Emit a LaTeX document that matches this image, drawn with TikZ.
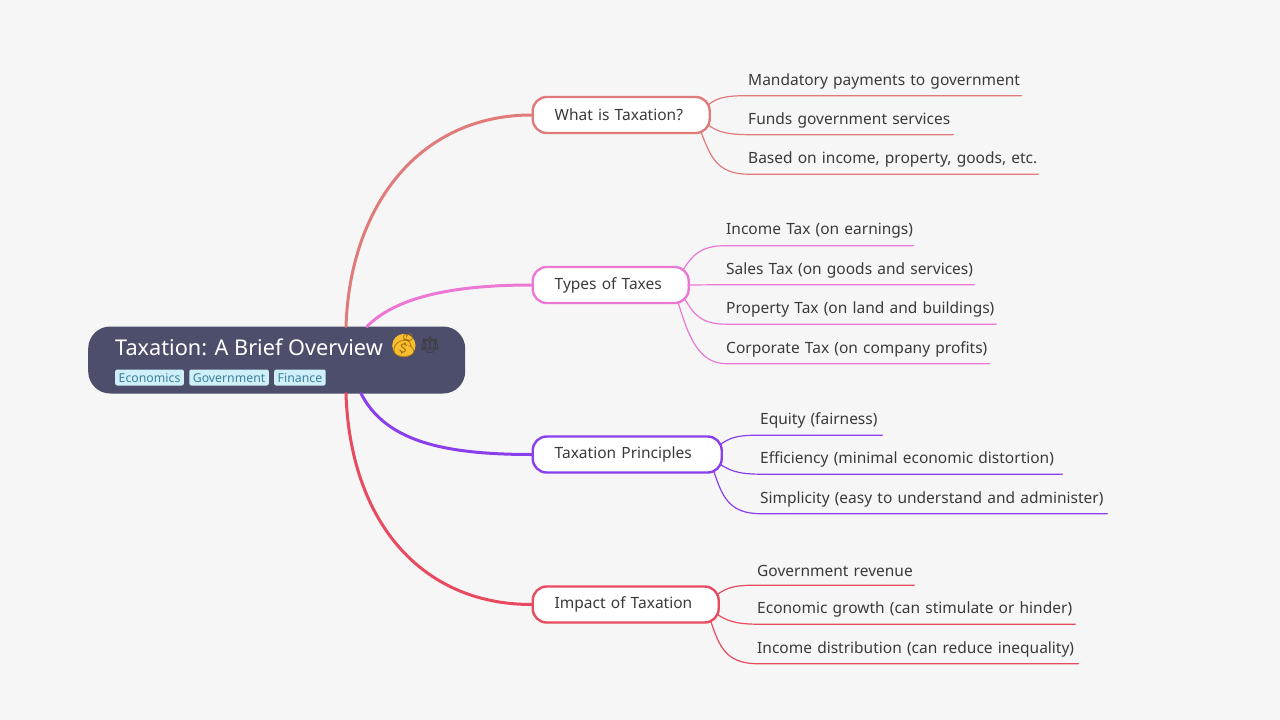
\documentclass[tikz,border=0pt]{standalone}
\usepackage{fontspec}
\setmainfont{Noto Sans}
\newfontfamily\emojifont{Noto Emoji}
\usetikzlibrary{positioning, calc}

\definecolor{canvas}{HTML}{F6F6F6}
\definecolor{rootfill}{HTML}{4C4E6C}
\definecolor{tagfill}{HTML}{CFF0F8}
\definecolor{tagtext}{HTML}{3D7F9C}
\definecolor{inktext}{HTML}{3A3A3A}
\definecolor{bagcol}{HTML}{F8C030}
\definecolor{bagline}{HTML}{A87008}
\definecolor{whatcol}{HTML}{E07B7B}
\definecolor{typescol}{HTML}{EC78D6}
\definecolor{princol}{HTML}{8A3FEC}
\definecolor{impactcol}{HTML}{E84A5F}

\begin{document}
\begin{tikzpicture}[x=1pt, y=-1pt]
	\tikzstyle{branch}=[draw, line width=2.4pt, rounded corners=14pt, fill=white, minimum height=36pt, inner xsep=22pt, text=inktext, font=\fontsize{15.5}{18}\selectfont, anchor=west, align=left];
	\tikzstyle{leaf}=[minimum height=29pt, text=inktext, font=\fontsize{15.5}{18}\selectfont, anchor=west, inner xsep=0pt, align=left];
	\tikzstyle{tag}=[fill=tagfill, text=tagtext, rounded corners=2pt, font=\fontsize{12.3}{14}\selectfont, inner xsep=3.5pt, inner ysep=3.5pt, text height=9pt, text depth=0pt, anchor=west];
	\tikzstyle{trunk}=[line width=3pt, line cap=round];
	\tikzstyle{twig}=[line width=1.2pt, line cap=round];

   \fill[canvas] (0, 0) rectangle (1280, 720);

   % first level
   \node[branch, draw=whatcol, text width=133pt] (what) at (531.5, 115) {What is Taxation?};
   \node[branch, draw=typescol, text width=112pt] (types) at (531.5, 285) {Types of Taxes};
   \node[branch, draw=princol, text width=145pt] (prin) at (531.5, 454.5) {Taxation Principles};
   \node[branch, draw=impactcol, text width=142pt] (impact) at (531.5, 604.5) {Impact of Taxation};

   % root
   \node[fill=rootfill, rounded corners=22pt, minimum width=377pt, minimum height=67pt, anchor=west] (root) at (88, 360) {};
   \node[text=white, font=\fontsize{21.7}{24}\selectfont, anchor=west, inner sep=0pt] (title) at (115, 347.5) {Taxation: A Brief Overview};
   \node[circle, fill=bagcol, text=bagline, font=\emojifont\fontsize{23}{24}\selectfont, inner sep=0pt, minimum size=17pt, right=9pt of title, yshift=2pt] (bag) {\raisebox{1pt}{\makebox[0pt]{💰}}};
   \node[text=inktext, font=\emojifont\fontsize{16}{20}\selectfont, inner sep=0pt, right=4pt of bag, yshift=0pt] (scales) {⚖};
   \node[tag] (econ) at (115, 377.5) {Economics};
   \node[tag, right=5pt of econ] (gov) {Government};
   \node[tag, right=5pt of gov] (fin) {Finance};

   \coordinate (r1) at (346, 326.5);
   \coordinate (r2) at (367, 326.5);
   \coordinate (r3) at (361, 393.5);
   \coordinate (r4) at (346, 393.5);
   \draw[trunk, whatcol] (r1) .. controls (350, 205) and (420, 115) .. (what.west);
   \draw[trunk, typescol] (r2) .. controls (395, 298) and (450, 285) .. (types.west);
   \draw[trunk, princol] (r3) .. controls (385, 440) and (440, 454.5) .. (prin.west);
   \draw[trunk, impactcol] (r4) .. controls (350, 520) and (420, 604.5) .. (impact.west);

   % What is Taxation?
   \node[leaf, text width=273pt] (w1) at (748, 81) {Mandatory payments to government};
   \node[leaf, text width=205pt] (w2) at (748, 120) {Funds government services};
   \node[leaf, text width=290pt] (w3) at (748, 159.5) {Based on income, property, goods, etc.};
   \coordinate (wa) at (708, 105);
   \coordinate (wb) at (708, 125);
   \coordinate (wc) at (701, 132);
   \draw[twig, whatcol] (wa) .. controls (716, 99) and (722, 95.5) .. (w1.south west) -- (w1.south east);
   \draw[twig, whatcol] (wb) .. controls (716, 130) and (722, 134.5) .. (w2.south west) -- (w2.south east);
   \draw[twig, whatcol] (wc) .. controls (710, 155) and (716, 174) .. (w3.south west) -- (w3.south east);

   % Types of Taxes
   \node[leaf, text width=187pt] (t1) at (726, 231) {Income Tax (on earnings)};
   \node[leaf, text width=248pt] (t2) at (726, 270) {Sales Tax (on goods and services)};
   \node[leaf, text width=270pt] (t3) at (726, 309.5) {Property Tax (on land and buildings)};
   \node[leaf, text width=263pt] (t4) at (726, 349) {Corporate Tax (on company profits)};
   \coordinate (ta) at (683, 270);
   \coordinate (tb) at (688, 285);
   \coordinate (tc) at (684, 298);
   \coordinate (td) at (678, 302);
   \draw[twig, typescol] (ta) .. controls (692, 256) and (700, 245.5) .. (t1.south west) -- (t1.south east);
   \draw[twig, typescol] (tb) -- (t2.south west) -- (t2.south east);
   \draw[twig, typescol] (tc) .. controls (694, 314) and (700, 324) .. (t3.south west) -- (t3.south east);
   \draw[twig, typescol] (td) .. controls (688, 335) and (698, 363.5) .. (t4.south west) -- (t4.south east);

   % Taxation Principles
   \node[leaf, text width=122pt] (p1) at (760, 420.5) {Equity (fairness)};
   \node[leaf, text width=302pt] (p2) at (760, 459.5) {Efficiency (minimal economic distortion)};
   \node[leaf, text width=347pt] (p3) at (760, 499) {Simplicity (easy to understand and administer)};
   \coordinate (pa) at (721, 444);
   \coordinate (pb) at (721, 465);
   \coordinate (pc) at (714, 472);
   \draw[twig, princol] (pa) .. controls (730, 438) and (736, 435) .. (p1.south west) -- (p1.south east);
   \draw[twig, princol] (pb) .. controls (730, 470) and (736, 474) .. (p2.south west) -- (p2.south east);
   \draw[twig, princol] (pc) .. controls (722, 495) and (728, 513.5) .. (p3.south west) -- (p3.south east);

   % Impact of Taxation
   \node[leaf, text width=157pt] (i1) at (757, 570.5) {Government revenue};
   \node[leaf, text width=318pt] (i2) at (757, 609.5) {Economic growth (can stimulate or hinder)};
   \node[leaf, text width=321pt] (i3) at (757, 649) {Income distribution (can reduce inequality)};
   \coordinate (ia) at (718, 594);
   \coordinate (ib) at (718, 615);
   \coordinate (ic) at (711, 622);
   \draw[twig, impactcol] (ia) .. controls (727, 588) and (733, 585) .. (i1.south west) -- (i1.south east);
   \draw[twig, impactcol] (ib) .. controls (727, 620) and (733, 624) .. (i2.south west) -- (i2.south east);
   \draw[twig, impactcol] (ic) .. controls (719, 645) and (725, 663.5) .. (i3.south west) -- (i3.south east);

\end{tikzpicture}
\end{document}
